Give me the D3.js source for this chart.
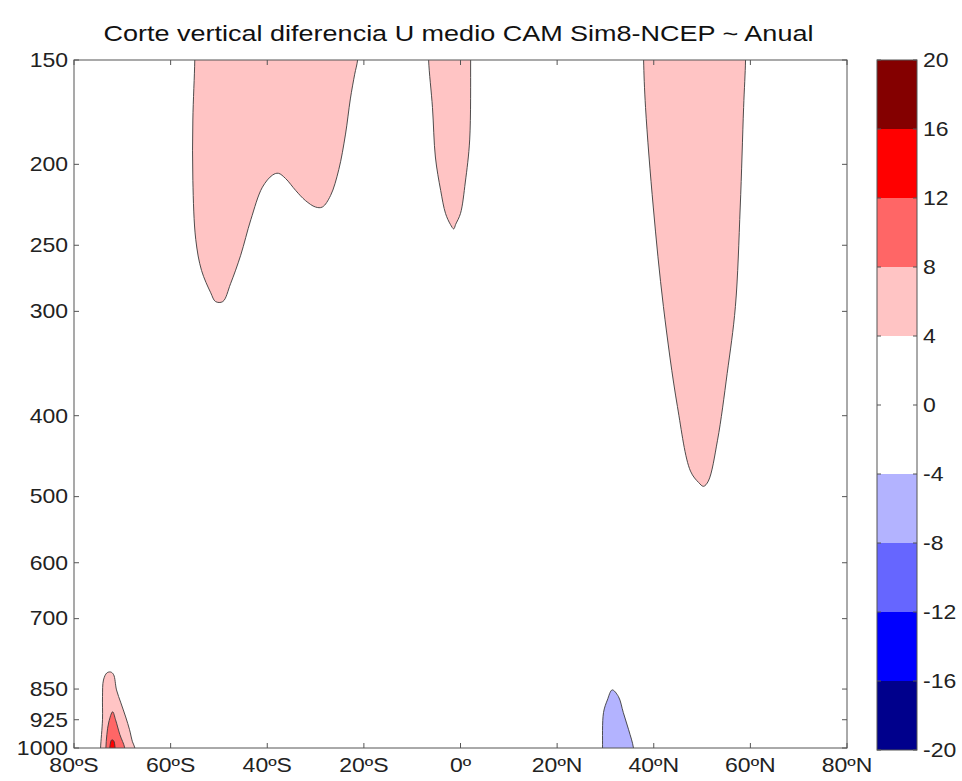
<!DOCTYPE html>
<html>
<head>
<meta charset="utf-8">
<script src="https://cdn.jsdelivr.net/npm/d3@7"></script>
<style>
  body { margin: 0; background: #fff; }
  svg { display: block; font-family: "Liberation Sans", Arial, sans-serif; }
</style>
</head>
<body>
<div id="chart"></div>
<script>
// Vertical cross-section of annual mean U difference (CAM Sim8 minus NCEP)
const latTicks = [-80, -60, -40, -20, 0, 20, 40, 60, 80];
const latLabels = ['80ºS', '60ºS', '40ºS', '20ºS', '0º', '20ºN', '40ºN', '60ºN', '80ºN'];
const presTicks = [150, 200, 250, 300, 400, 500, 600, 700, 850, 925, 1000];
const levels = [-20, -16, -12, -8, -4, 0, 4, 8, 12, 16, 20];
// colour of each band between consecutive levels
const bandColors = ['#00008c', '#0000ff', '#6666ff', '#b3b3ff', '#ffffff',
                    '#ffffff', '#ffc4c4', '#ff6666', '#ff0000', '#840000'];

// contour outlines: [lat, hPa]; points beyond 150/1000 get clipped by the axes
const southJet = [[-55.0, 140], [-55.0, 150], [-55.4, 177], [-55.4, 209], [-54.8, 246], [-53.6, 268],
  [-51.7, 285], [-50.7, 292], [-49.2, 292], [-47.6, 278], [-45.5, 257], [-43.4, 233], [-41.0, 213],
  [-38.9, 206], [-37.7, 205], [-36.2, 208], [-34.1, 215], [-32.1, 221], [-30.0, 225], [-28.6, 225],
  [-26.9, 218], [-25.2, 203], [-23.8, 184], [-22.8, 167], [-21.9, 156], [-21.3, 150], [-21.1, 140]];
const equatorJet = [[-6.6, 140], [-6.6, 150], [-5.8, 171], [-5.2, 196], [-4.1, 215], [-3.1, 229],
  [-2.1, 236], [-1.4, 239], [-1.0, 236], [0.0, 229], [1.0, 210], [1.9, 187], [2.1, 150], [2.1, 140]];
const northJet = [[37.9, 140], [37.9, 150], [38.3, 171], [39.9, 225], [42.0, 296], [44.9, 390],
  [47.6, 466], [49.3, 481], [50.3, 486], [51.3, 479], [53.2, 428], [55.2, 356], [56.9, 296],
  [57.9, 225], [58.6, 171], [59.0, 150], [59.0, 140]];
const antarcticOuter = [[-74.5, 1030], [-74.5, 1000], [-74.1, 925], [-74.1, 868], [-73.9, 829],
  [-73.2, 813], [-72.4, 811], [-71.8, 817], [-71.2, 852], [-70.3, 883], [-69.3, 918], [-68.5, 951],
  [-67.9, 983], [-67.4, 1000], [-67.4, 1030]];
const antarcticInner = [[-73.4, 1030], [-73.4, 1000], [-73.2, 964], [-72.8, 931], [-72.0, 905],
  [-71.4, 925], [-70.5, 964], [-69.5, 1000], [-69.5, 1030]];
const antarcticCore = [[-72.6, 1030], [-72.6, 1000], [-72.2, 978], [-71.8, 980], [-71.5, 1000], [-71.5, 1030]];
const subtropicBlue = [[29.4, 1030], [29.4, 1000], [29.6, 907], [30.4, 876], [31.4, 852], [32.7, 868],
  [33.7, 907], [34.8, 951], [35.8, 1000], [35.8, 1030]];

// region + the band it falls in (index into bandColors)
const regions = [
  { pts: southJet, band: 6 },
  { pts: equatorJet, band: 6 },
  { pts: northJet, band: 6 },
  { pts: antarcticOuter, band: 6 },
  { pts: antarcticInner, band: 7 },
  { pts: antarcticCore, band: 8 },
  { pts: subtropicBlue, band: 3 }
];

const W = 962, H = 781;
const L = 74, R = 847, T = 60, B = 748;
const CB = { x: 877, w: 40, top: 60, bottom: 750 };

const svg = d3.select('#chart').append('svg').attr('width', W).attr('height', H);

const x = d3.scaleLinear().domain([-80, 80]).range([L, R]);
const y = d3.scaleLog().domain([150, 1000]).range([T, B]);

svg.append('defs').append('clipPath').attr('id', 'plotclip')
  .append('rect').attr('x', L).attr('y', T).attr('width', R - L).attr('height', B - T);

const plot = svg.append('g').attr('clip-path', 'url(#plotclip)');
const line = d3.line().x(d => x(d[0])).y(d => y(d[1])).curve(d3.curveCatmullRom.alpha(0.5));

plot.selectAll('path.region').data(regions).join('path')
  .attr('class', 'region')
  .attr('d', d => line(d.pts) + 'Z')
  .attr('fill', d => bandColors[d.band])
  .attr('stroke', '#3a3a3a')
  .attr('stroke-width', 0.9);

// axes box with inward ticks (matlab style)
const axisColor = '#555';
const tickLen = 5;
const axes = svg.append('g').attr('stroke', axisColor).attr('stroke-width', 1);
axes.append('rect').attr('x', L).attr('y', T).attr('width', R - L).attr('height', B - T)
  .attr('fill', 'none');
latTicks.forEach(v => {
  axes.append('line').attr('x1', x(v)).attr('x2', x(v)).attr('y1', B).attr('y2', B - tickLen);
  axes.append('line').attr('x1', x(v)).attr('x2', x(v)).attr('y1', T).attr('y2', T + tickLen);
});
presTicks.forEach(v => {
  axes.append('line').attr('x1', L).attr('x2', L + tickLen).attr('y1', y(v)).attr('y2', y(v));
  axes.append('line').attr('x1', R).attr('x2', R - tickLen).attr('y1', y(v)).attr('y2', y(v));
});

// the source glyphs are a bit wider than Liberation Sans, so stretch horizontally
const fs = 20, sx = 1.15;
svg.append('g').selectAll('text').data(latTicks).join('text')
  .attr('transform', d => `translate(${x(d)},${B + 24}) scale(${sx},1)`)
  .attr('text-anchor', 'middle').attr('font-size', fs).attr('fill', '#222')
  .text((d, i) => latLabels[i]);

svg.append('g').selectAll('text').data(presTicks).join('text')
  .attr('transform', d => `translate(${L - 6},${y(d)}) scale(${sx},1)`)
  .attr('dy', '0.34em')
  .attr('text-anchor', 'end').attr('font-size', fs).attr('fill', '#222')
  .text(d => d);

// colorbar
const cy = d3.scaleLinear().domain([-20, 20]).range([CB.bottom, CB.top]);
const cbar = svg.append('g');
cbar.selectAll('rect').data(d3.range(bandColors.length)).join('rect')
  .attr('x', CB.x).attr('width', CB.w)
  .attr('y', i => cy(levels[i + 1])).attr('height', i => cy(levels[i]) - cy(levels[i + 1]))
  .attr('fill', i => bandColors[i]);
cbar.append('rect').attr('x', CB.x).attr('y', CB.top).attr('width', CB.w)
  .attr('height', CB.bottom - CB.top).attr('fill', 'none').attr('stroke', axisColor);
levels.forEach(v => {
  cbar.append('line').attr('x1', CB.x).attr('x2', CB.x + 4).attr('y1', cy(v)).attr('y2', cy(v))
    .attr('stroke', axisColor);
  cbar.append('line').attr('x1', CB.x + CB.w).attr('x2', CB.x + CB.w - 4).attr('y1', cy(v)).attr('y2', cy(v))
    .attr('stroke', axisColor);
});
cbar.selectAll('text').data(levels).join('text')
  .attr('transform', d => `translate(${CB.x + CB.w + 6},${cy(d)}) scale(${sx},1)`)
  .attr('dy', '0.36em')
  .attr('font-size', fs).attr('fill', '#222')
  .text(d => d);

svg.append('text')
  .attr('transform', `translate(${(L + R) / 2 - 2},41) scale(1.2,1)`)
  .attr('text-anchor', 'middle').attr('font-size', 22.5).attr('fill', '#111')
  .text('Corte vertical diferencia U medio CAM Sim8-NCEP ~ Anual');
</script>
</body>
</html>
